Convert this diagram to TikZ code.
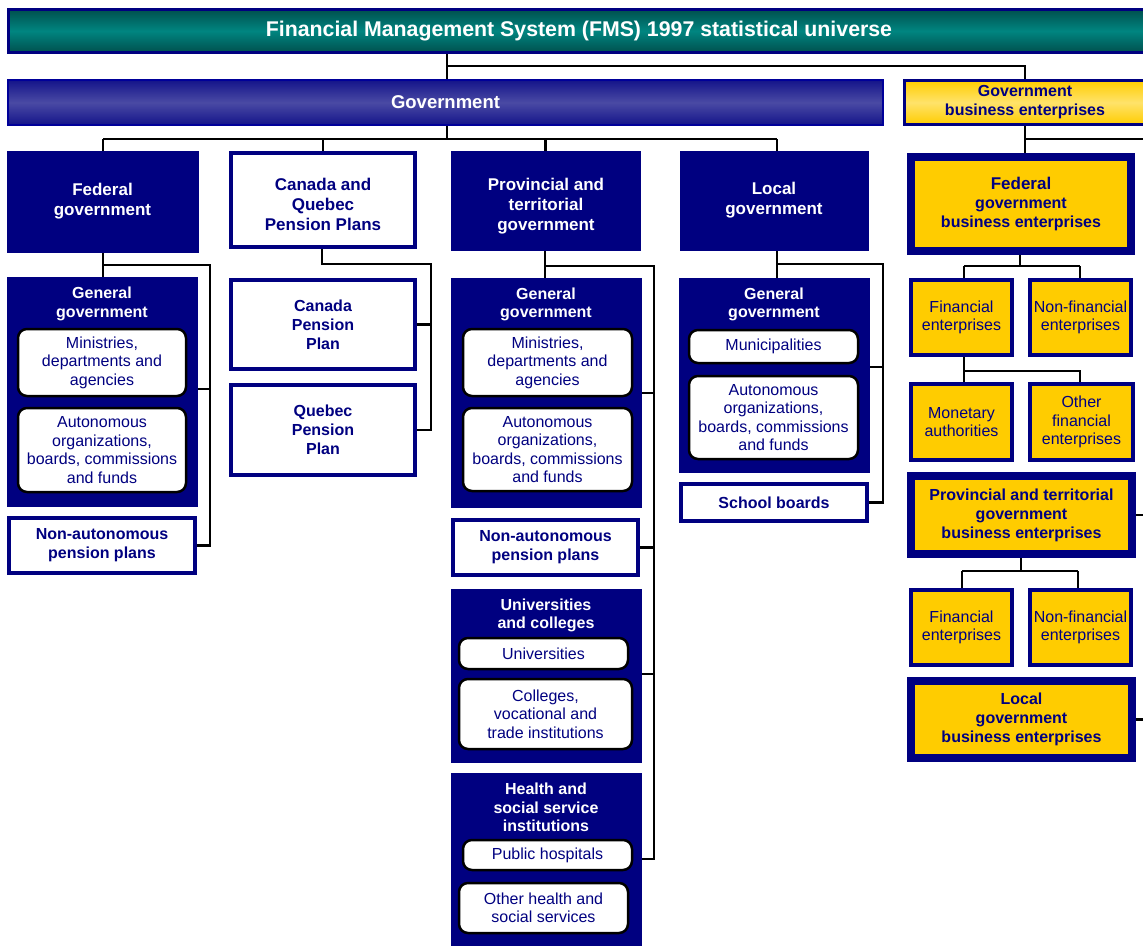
\documentclass[tikz,border=0pt]{standalone}
\usepackage{fontspec}
\setmainfont{Liberation Sans}
\usetikzlibrary{backgrounds}
\definecolor{navy}{HTML}{000080}
\definecolor{gold}{HTML}{FFCC00}
\definecolor{goldlight}{HTML}{FFE36A}
\definecolor{tealdark}{HTML}{00504E}
\definecolor{tealmid}{HTML}{008580}
\definecolor{govdark}{HTML}{14148A}
\definecolor{govmid}{HTML}{4A4AA4}
\newcommand\bx[7]{\node[#6,anchor=north west,outer sep=0pt,minimum width={#4-#2},minimum height={#5-#3}] (#1) at (#2,#3) {#7};}
\begin{document}
\begin{tikzpicture}[x=1pt,y=-1pt,
  conn/.style={draw=black,line width=2.2pt},
  titlebar/.style={top color=tealdark,bottom color=tealdark,middle color=tealmid,draw=navy,line width=3pt,text=white,font=\bfseries\fontsize{21.3}{25}\selectfont},
  govbar/.style={top color=govdark,bottom color=govdark,middle color=govmid,draw=navy!80!blue,line width=2pt,text=white,font=\bfseries\fontsize{18.5}{22}\selectfont},
  gbebar/.style={top color=gold,bottom color=gold,middle color=goldlight,draw=navy,line width=3pt,text=navy,align=center,inner sep=1pt,font=\bfseries\fontsize{16}{19}\selectfont},
  navybox/.style={fill=navy,draw=navy,line width=1pt,text=white,align=center,inner sep=1pt,font=\bfseries\fontsize{17}{20}\selectfont},
  panel/.style={fill=navy,draw=navy,line width=1pt},
  paneltitle/.style={text=white,align=center,inner sep=0pt,font=\bfseries\fontsize{16}{18.5}\selectfont},
  boxtitle/.style={align=center,inner sep=0pt,font=\bfseries\fontsize{17}{20}\selectfont},
  whitebox/.style={fill=white,draw=navy,line width=4pt,text=navy,align=center,inner sep=1pt,font=\bfseries\fontsize{16}{19}\selectfont},
  inbox/.style={fill=white,draw=black,line width=2.5pt,rounded corners=9pt,text=navy,align=center,inner sep=1pt,font=\fontsize{16}{18.5}\selectfont},
  ybig/.style={fill=gold,draw=navy,line width=8pt,text=navy,align=center,inner sep=1pt,font=\bfseries\fontsize{16}{19}\selectfont},
  ysmall/.style={fill=gold,draw=navy,line width=4pt,text=navy,align=center,inner sep=1pt,font=\fontsize{16}{18.5}\selectfont}]
\useasboundingbox (0,0) rectangle (1143,945);
\clip (0,0) rectangle (1143,945);

% top level
\bx{title}{8}{9.5}{1150}{52.5}{titlebar}{Financial Management System (FMS) 1997 statistical universe}
\bx{gov}{8}{80}{883}{125}{govbar}{Government}
\bx{gbe}{904}{80.5}{1146}{124.5}{gbebar}{Government\\business enterprises}

% government branches
\bx{fed}{7}{151}{198}{252}{navybox}{Federal\\government}
\bx{cqpp}{231}{153}{415}{247}{whitebox}{}
\node[boxtitle,text=navy] (cqppt) at (323,204) {Canada and\\Quebec\\Pension Plans};
\bx{prov}{451}{151}{640}{250}{panel}{}
\node[boxtitle,text=white] (provt) at (546,206) {Provincial and\\territorial\\government};
\bx{loc}{680}{151}{868}{250}{navybox}{Local\\government}

% federal
\bx{fedgg}{7}{277}{197}{506}{panel}{}
\node[paneltitle] (fedggt) at (102,304) {General\\government};
\bx{fedmin}{18}{329}{186}{396}{inbox}{Ministries,\\departments and\\agencies}
\bx{fedaut}{18}{408}{186}{492}{inbox}{Autonomous\\organizations,\\boards, commissions\\and funds}
\bx{fednap}{9}{518}{195}{573}{whitebox}{Non-autonomous\\pension plans}

% CPP / QPP
\bx{cpp}{231}{280}{415}{369}{whitebox}{Canada\\Pension\\Plan}
\bx{qpp}{231}{385}{415}{475}{whitebox}{Quebec\\Pension\\Plan}

% provincial
\bx{provgg}{451}{278}{641}{507}{panel}{}
\node[paneltitle] (provggt) at (546,304.5) {General\\government};
\bx{provmin}{463}{329}{632}{396}{inbox}{Ministries,\\departments and\\agencies}
\bx{provaut}{463}{408}{632}{491}{inbox}{Autonomous\\organizations,\\boards, commissions\\and funds}
\bx{provnap}{453}{520}{638}{575}{whitebox}{Non-autonomous\\pension plans}
\bx{univ}{451}{589}{641}{762}{panel}{}
\node[paneltitle] (univt) at (546,615.5) {Universities\\and colleges};
\bx{univU}{459}{638}{628}{669}{inbox}{Universities}
\bx{univC}{459}{679}{632}{749}{inbox}{Colleges,\\vocational and\\trade institutions}
\bx{health}{451}{773}{641}{955}{panel}{}
\node[paneltitle] (healtht) at (546,807.5) {Health and\\social service\\institutions};
\bx{hosp}{463}{840}{632}{870}{inbox}{Public hospitals}
\bx{oth}{459}{883}{628}{933}{inbox}{Other health and\\social services}

% local
\bx{locgg}{679}{278}{869}{472}{panel}{}
\node[paneltitle] (locggt) at (774,304.5) {General\\government};
\bx{muni}{689}{330}{858}{363}{inbox}{Municipalities}
\bx{locaut}{689}{376}{858}{459}{inbox}{Autonomous\\organizations,\\boards, commissions\\and funds}
\bx{school}{681}{484}{867}{521}{whitebox}{School boards}

% business enterprises
\bx{fgbe}{911}{157}{1131}{251}{ybig}{\fontsize{17}{20}\selectfont Federal\\government\\business enterprises}
\bx{ffin}{911}{280}{1012}{355}{ysmall}{Financial\\enterprises}
\bx{fnon}{1030}{280}{1131}{355}{ysmall}{Non-financial\\enterprises}
\bx{mon}{911}{384}{1012}{460}{ysmall}{Monetary\\authorities}
\bx{ofin}{1030}{384}{1133}{460}{ysmall}{Other\\financial\\enterprises}
\bx{pgbe}{911}{476}{1132}{554}{ybig}{Provincial and territorial\\government\\business enterprises}
\bx{pfin}{911}{590}{1012}{665}{ysmall}{Financial\\enterprises}
\bx{pnon}{1030}{590}{1131}{665}{ysmall}{Non-financial\\enterprises}
\bx{lgbe}{911}{681}{1132}{758}{ybig}{Local\\government\\business enterprises}

\begin{pgfonlayer}{background}
% top
\coordinate (tj) at (447,66);
\draw[conn] (title.south -| tj) -- (gov.north -| tj);
\draw[conn] (tj) -| (gbe.north);
% government bus
\coordinate (gj) at (447,139);
\coordinate (gl) at (103,139);
\coordinate (gr) at (777,139);
\draw[conn] (gov.south -| gj) -- (gj);
\draw[conn] (gl) -- (gr);
\draw[conn] (gl) -- (fed.north -| gl);
\draw[conn] (cqpp.north |- gj) -- (cqpp.north);
\draw[conn] (prov.north |- gj) -- (prov.north);
\draw[conn] (gr) -- (loc.north -| gr);
% federal
\coordinate (fa) at (103,265);
\coordinate (fb) at (210,265);
\coordinate (fc) at (210,389);
\draw[conn] (fed.south -| fa) -- (fedgg.north -| fa);
\draw[conn] (fa) -- (fb) |- (fednap.east);
\draw[conn] (fedgg.east |- fc) -- (fc);
% cpp qpp
\coordinate (ca) at (322,264);
\coordinate (cb) at (431,264);
\draw[conn] (cqpp.south -| ca) -- (ca) -- (cb) |- (qpp.east);
\draw[conn] (cpp.east) -- (cpp.east -| cb);
% provincial
\coordinate (pa) at (545,266);
\coordinate (pb) at (654,266);
\coordinate (pc) at (654,393);
\coordinate (pd) at (654,674);
\coordinate (pe) at (654,859);
\draw[conn] (prov.south -| pa) -- (provgg.north -| pa);
\draw[conn] (pa) -- (pb) -- (pe) -- (health.east |- pe);
\draw[conn] (provgg.east |- pc) -- (pc);
\draw[conn] (provnap.east) -- (provnap.east -| pb);
\draw[conn] (univ.east |- pd) -- (pd);
% local
\coordinate (la) at (777,264);
\coordinate (lb) at (883,264);
\coordinate (lc) at (883,367);
\draw[conn] (loc.south -| la) -- (locgg.north -| la);
\draw[conn] (la) -- (lb) |- (school.east);
\draw[conn] (locgg.east |- lc) -- (lc);
% business enterprises
\coordinate (ga) at (1025,139);
\coordinate (gz) at (1149,139);
\draw[conn] (gbe.south -| ga) -- (fgbe.north -| ga);
\draw[conn] (ga) -- (gz) |- (lgbe.east);
\draw[conn] (pgbe.east) -- (pgbe.east -| gz);
\coordinate (fa2) at (1020,266);
\coordinate (fl) at (964,266);
\coordinate (fr) at (1080,266);
\draw[conn] (fgbe.south -| fa2) -- (fa2);
\draw[conn] (fl) -- (fr);
\draw[conn] (fl) -- (ffin.north -| fl);
\draw[conn] (fr) -- (fnon.north -| fr);
\coordinate (ml) at (964,371);
\coordinate (mr) at (1080,371);
\draw[conn] (ffin.south -| ml) -- (mon.north -| ml);
\draw[conn] (ml) -- (mr) -- (ofin.north -| mr);
\coordinate (pa2) at (1021,571);
\coordinate (pl) at (962,571);
\coordinate (pr) at (1078,571);
\draw[conn] (pgbe.south -| pa2) -- (pa2);
\draw[conn] (pl) -- (pr);
\draw[conn] (pl) -- (pfin.north -| pl);
\draw[conn] (pr) -- (pnon.north -| pr);
\end{pgfonlayer}
\end{tikzpicture}
\end{document}
